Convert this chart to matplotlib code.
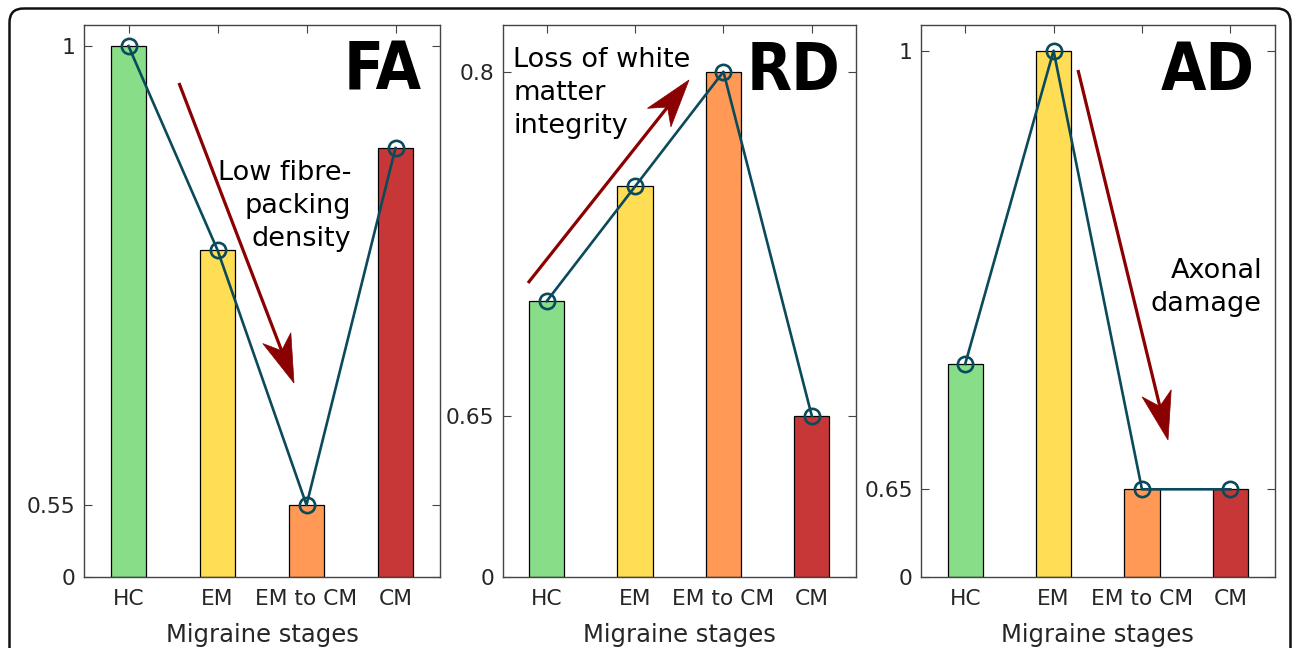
import numpy as np
import matplotlib
matplotlib.use("Agg")
import matplotlib.pyplot as plt
from matplotlib.patches import FancyBboxPatch, Polygon
from matplotlib import font_manager as fm

# ---------------- data ----------------
stages = ["HC", "EM", "EM to CM", "CM"]
fa_vals = [1.0, 0.80, 0.55, 0.90]
rd_vals = [0.70, 0.75, 0.80, 0.65]
ad_vals = [0.75, 1.0, 0.65, 0.65]
fa_ticks = [0, 0.55, 1]
rd_ticks = [0, 0.65, 0.8]
ad_ticks = [0, 0.65, 1]
fa_ticklabels = ["0", "0.55", "1"]
rd_ticklabels = ["0", "0.65", "0.8"]
ad_ticklabels = ["0", "0.65", "1"]
bar_colors = ["#88dd88", "#ffdd55", "#ff9955", "#c83737"]
line_color = "#0a4a5a"
arrow_color = "#8b0000"

W, H = 1295, 648
fig = plt.figure(figsize=(W / 100, H / 100), dpi=100)


def piecewise_scale(vals, pos):
    vals = np.asarray(vals, float)
    pos = np.asarray(pos, float)

    def fwd(y):
        y = np.asarray(y, float)
        out = np.interp(y, vals, pos)
        s_hi = (pos[-1] - pos[-2]) / (vals[-1] - vals[-2])
        s_lo = (pos[1] - pos[0]) / (vals[1] - vals[0])
        out = np.where(y > vals[-1], pos[-1] + (y - vals[-1]) * s_hi, out)
        out = np.where(y < vals[0], pos[0] + (y - vals[0]) * s_lo, out)
        return out

    def inv(p):
        p = np.asarray(p, float)
        out = np.interp(p, pos, vals)
        s_hi = (vals[-1] - vals[-2]) / (pos[-1] - pos[-2])
        s_lo = (vals[1] - vals[0]) / (pos[1] - pos[0])
        out = np.where(p > pos[-1], vals[-1] + (p - pos[-1]) * s_hi, out)
        out = np.where(p < pos[0], vals[0] + (p - pos[0]) * s_lo, out)
        return out

    return fwd, inv


panels = [
    (84, 356, fa_vals, fa_ticks, fa_ticklabels, [0, 72, 531]),
    (502.5, 353.5, rd_vals, rd_ticks, rd_ticklabels, [0, 161, 505.3]),
    (921, 353.5, ad_vals, ad_ticks, ad_ticklabels, [0, 87.7, 526.3]),
]
ax_top, ax_bot = 25, 577
ax_h = ax_bot - ax_top
spine_col = "#444444"
tick_col = "#262626"

x = np.arange(1, len(stages) + 1)
for left, width, vals, ticks, tlabels, spos in panels:
    ax = fig.add_axes([left / W, (H - ax_bot) / H, width / W, ax_h / H])
    fwd, inv = piecewise_scale(ticks, spos)
    ax.set_yscale("function", functions=(fwd, inv))
    ax.bar(x, vals, width=0.4, color=bar_colors, edgecolor="black",
           linewidth=0.9, zorder=2)
    ax.plot(x, vals, color=line_color, lw=1.9, marker="o", ms=11,
            mfc="none", mec=line_color, mew=1.9, zorder=3, clip_on=False)
    ax.set_xlim(0.5, len(stages) + 0.5)
    ax.set_ylim(0, float(inv(ax_h)))
    ax.set_yticks(ticks)
    ax.set_yticklabels(tlabels)
    ax.set_xticks(x)
    ax.set_xticklabels(stages)
    ax.minorticks_off()
    ax.tick_params(direction="in", top=True, right=True, length=5.5,
                   width=0.8, color=spine_col, labelsize=15.7,
                   labelcolor=tick_col)
    ax.tick_params(axis="x", pad=8.5)
    ax.tick_params(axis="y", pad=6)
    ax.set_xlabel("Migraine stages", fontsize=17.5, color=tick_col,
                  labelpad=10.5)
    for s in ax.spines.values():
        s.set_color(spine_col)
        s.set_linewidth(1.0)

# overlay in pixel coordinates for annotations
ov = fig.add_axes([0, 0, 1, 1], zorder=10)
ov.set_xlim(0, W)
ov.set_ylim(H, 0)
ov.axis("off")
ov.patch.set_alpha(0)

frame = FancyBboxPatch((9.5, 8.5), 1281, 700,
                       boxstyle="round,pad=0,rounding_size=14",
                       fill=False, edgecolor="#111111", linewidth=1.8,
                       clip_on=False)
ov.add_patch(frame)


def draw_arrow(start, tip, head_len=48, half_w=15, notch=0.72, lw=2.3):
    s = np.array(start, float)
    t = np.array(tip, float)
    u = (t - s) / np.linalg.norm(t - s)
    n = np.array([-u[1], u[0]])
    back = t - head_len * u
    nb = t - notch * head_len * u
    ov.plot([s[0], nb[0]], [s[1], nb[1]], color=arrow_color, lw=lw,
            solid_capstyle="butt")
    poly = Polygon([t, back + half_w * n, nb, back - half_w * n],
                   closed=True, facecolor=arrow_color, edgecolor=arrow_color,
                   linewidth=0.5)
    ov.add_patch(poly)


draw_arrow((179, 83), (294, 383))
draw_arrow((528, 283), (689, 80))
draw_arrow((1078, 70), (1168, 440))

txt_kw = dict(fontsize=19.5, color="black", linespacing=1.36,
              family="DejaVu Sans", va="baseline")
ov.text(351, 246, "Low fibre-\npacking\ndensity", ha="right",
        multialignment="right", **txt_kw)
ov.text(513, 133, "Loss of white\nmatter\nintegrity", ha="left",
        multialignment="left", **txt_kw)
ov.text(1262, 311, "Axonal\ndamage", ha="right",
        multialignment="right", **txt_kw)

# pick a condensed bold face for the big panel labels
cands = []
for f in fm.findSystemFonts():
    name = f.split("/")[-1].lower()
    if ("narrow" in name or "condensed" in name) and "bold" in name \
            and "italic" not in name and "oblique" not in name:
        cands.append(f)
cands.sort(key=lambda p: (0 if "liberationsansnarrow" in p.lower() else
                          1 if "dejavusanscondensed" in p.lower() else 2))
if cands:
    big_fp = fm.FontProperties(fname=cands[0], size=47)
else:
    big_fp = fm.FontProperties(family="Liberation Sans", weight="bold",
                               size=42)

big_kw = dict(fontproperties=big_fp, color="black", ha="right",
              va="baseline")
ov.text(422, 90, "FA", **big_kw)
ov.text(840, 90, "RD", **big_kw)
ov.text(1255, 90, "AD", **big_kw)

fig.savefig("out.png", dpi=100)
